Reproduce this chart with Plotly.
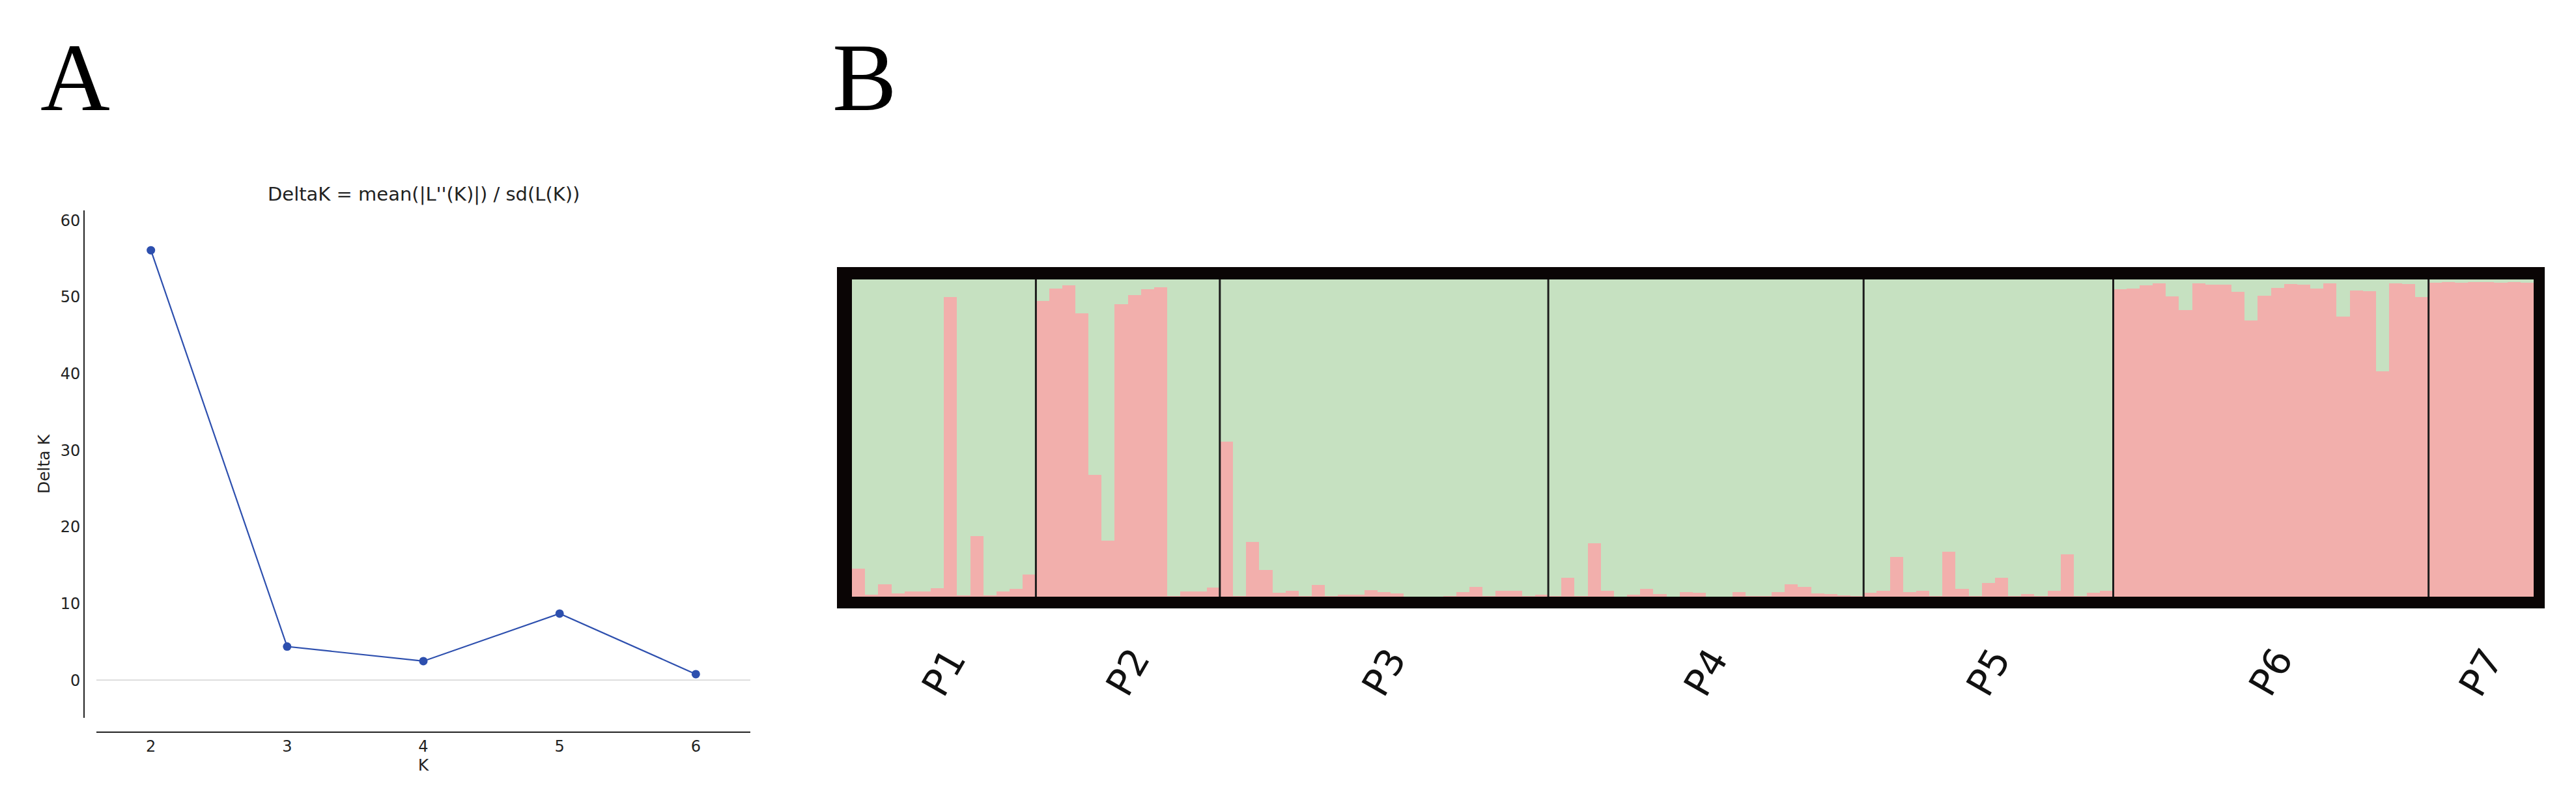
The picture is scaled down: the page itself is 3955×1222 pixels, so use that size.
import plotly.graph_objects as go

W, H = 3955, 1222
# the browser page has a default 8px body margin; draw the figure 8px smaller
# and map reference pixel positions accordingly
OFF = 8
FW, FH = W - OFF, H - OFF

# ---------------- Panel A data ----------------
k_values = [2, 3, 4, 5, 6]
delta_k = [56.1, 4.4, 2.5, 8.7, 0.8]

# ---------------- Panel B data (membership proportion of cluster 1 / pink) ----------------
pop_names = ["P1", "P2", "P3", "P4", "P5", "P6", "P7"]
p1 = [0.089, 0.007, 0.038, 0.010, 0.017, 0.016, 0.027, 0.944, 0.005, 0.192, 0.004, 0.016, 0.025, 0.069]
p2 = [0.933, 0.972, 0.981, 0.893, 0.383, 0.177, 0.921, 0.950, 0.969, 0.976, 0.003, 0.016, 0.017, 0.029]
p3 = [0.488, 0.003, 0.172, 0.084, 0.012, 0.019, 0.003, 0.036, 0.003, 0.007, 0.006, 0.021, 0.014,
      0.010, 0.001, 0.001, 0.001, 0.003, 0.014, 0.031, 0.003, 0.019, 0.019, 0.002, 0.007]
p4 = [0.003, 0.060, 0.003, 0.168, 0.019, 0.001, 0.007, 0.024, 0.008, 0.001, 0.014, 0.012,
      0.001, 0.001, 0.014, 0.003, 0.003, 0.014, 0.038, 0.031, 0.010, 0.008, 0.004, 0.003]
p5 = [0.012, 0.019, 0.125, 0.014, 0.019, 0.003, 0.141, 0.024, 0.003, 0.043, 0.060, 0.003,
      0.008, 0.003, 0.019, 0.134, 0.003, 0.012, 0.019]
p6 = [0.969, 0.971, 0.981, 0.988, 0.946, 0.904, 0.988, 0.983, 0.983, 0.960, 0.871, 0.948,
      0.974, 0.986, 0.983, 0.971, 0.988, 0.882, 0.966, 0.964, 0.711, 0.988, 0.986, 0.944]
p7 = [0.990, 0.991, 0.990, 0.991, 0.991, 0.990, 0.991, 0.990]
pops = [p1, p2, p3, p4, p5, p6, p7]

PINK = "#F2AFAC"
GREEN = "#C6E1C1"
BLUE = "#2D4FAE"
INK = "#222222"


def px(x):
    return (x - OFF) / FW


def py(y):
    return 1 - (y - OFF) / FH


pink = [v for p in pops for v in p]
green = [1 - v for v in pink]
idx = list(range(len(pink)))

fig = go.Figure()

# Panel A
fig.add_trace(go.Scatter(
    x=k_values, y=delta_k, mode="lines+markers",
    line=dict(color=BLUE, width=2.2),
    marker=dict(color=BLUE, size=13),
    xaxis="x", yaxis="y", showlegend=False,
))

# Panel B stacked bars
fig.add_trace(go.Bar(x=idx, y=pink, marker=dict(color=PINK, line=dict(width=0)),
                     xaxis="x2", yaxis="y2", showlegend=False, width=1.0))
fig.add_trace(go.Bar(x=idx, y=green, marker=dict(color=GREEN, line=dict(width=0)),
                     xaxis="x2", yaxis="y2", showlegend=False, width=1.0))

shapes = []
annotations = []

# population dividers and labels
start = 0
for i, (name, p) in enumerate(zip(pop_names, pops)):
    n = len(p)
    if i > 0:
        shapes.append(dict(type="line", xref="x2", yref="y2 domain",
                           x0=start - 0.5, x1=start - 0.5, y0=0, y1=1,
                           line=dict(color="#1c1c1c", width=3), layer="above"))
    annotations.append(dict(
        xref="x2", yref="paper", x=start + (n - 1) / 2, y=py(1032),
        text=name, showarrow=False, textangle=-60,
        font=dict(family="DejaVu Sans", size=58, color="#111111"),
        xanchor="center", yanchor="middle",
    ))
    start += n

# thick black frame (outer 1285-3907 x, 410-934 y; inner 1308-3890, 429-916)
FR = "#0a0505"
for (x0, y0, x1, y1) in [(1285, 410, 3907, 429), (1285, 916, 3907, 934),
                         (1285, 410, 1308, 934), (3890, 410, 3907, 934)]:
    shapes.append(dict(type="rect", xref="paper", yref="paper",
                       x0=px(x0), x1=px(x1), y0=py(y1), y1=py(y0),
                       fillcolor=FR, line=dict(width=0), layer="above"))

# Panel letters
annotations.append(dict(xref="paper", yref="paper", x=px(60), y=py(119), text="A",
                        showarrow=False, xanchor="left", yanchor="middle",
                        font=dict(family="Liberation Serif", size=148, color="black")))
annotations.append(dict(xref="paper", yref="paper", x=px(1276), y=py(119), text="B",
                        showarrow=False, xanchor="left", yanchor="middle",
                        font=dict(family="Liberation Serif", size=148, color="black")))

# Panel A title
annotations.append(dict(xref="paper", yref="paper", x=px(650), y=py(298),
                        text="DeltaK = mean(|L''(K)|) / sd(L(K))",
                        showarrow=False, xanchor="center", yanchor="middle",
                        font=dict(family="DejaVu Sans", size=29, color=INK)))

fig.update_layout(
    width=FW, height=FH,
    margin=dict(l=0, r=0, t=0, b=0),
    paper_bgcolor="white", plot_bgcolor="white",
    barmode="stack", bargap=0,
    showlegend=False,
    shapes=shapes, annotations=annotations,
    font=dict(family="DejaVu Sans", color=INK),
    xaxis=dict(
        domain=[px(148), px(1152)], range=[1.6, 6.4],
        anchor="free", position=py(1124),
        tickvals=k_values, ticks="", showgrid=False, zeroline=False,
        showline=True, linecolor=INK, linewidth=2,
        tickfont=dict(size=24, color=INK), ticklabelstandoff=0,
        title=dict(text="K", font=dict(size=25, color=INK), standoff=0),
    ),
    yaxis=dict(
        domain=[py(1102), py(323)], range=[-4.9, 61.3],
        anchor="free", position=px(129),
        tickvals=[0, 10, 20, 30, 40, 50, 60], ticks="", showgrid=False,
        zeroline=True, zerolinecolor="#dedede", zerolinewidth=2,
        showline=True, linecolor=INK, linewidth=2,
        tickfont=dict(size=24, color=INK),
        title=dict(text="Delta K", font=dict(size=25, color=INK), standoff=8),
    ),
    xaxis2=dict(
        domain=[px(1308), px(3890)], range=[-0.5, len(pink) - 0.5],
        anchor="y2", showticklabels=False, showgrid=False, zeroline=False,
        showline=False, ticks="",
    ),
    yaxis2=dict(
        domain=[py(916), py(429)], range=[0, 1],
        anchor="x2", showticklabels=False, showgrid=False, zeroline=False,
        showline=False, ticks="",
    ),
)

fig.write_html("out.html")
